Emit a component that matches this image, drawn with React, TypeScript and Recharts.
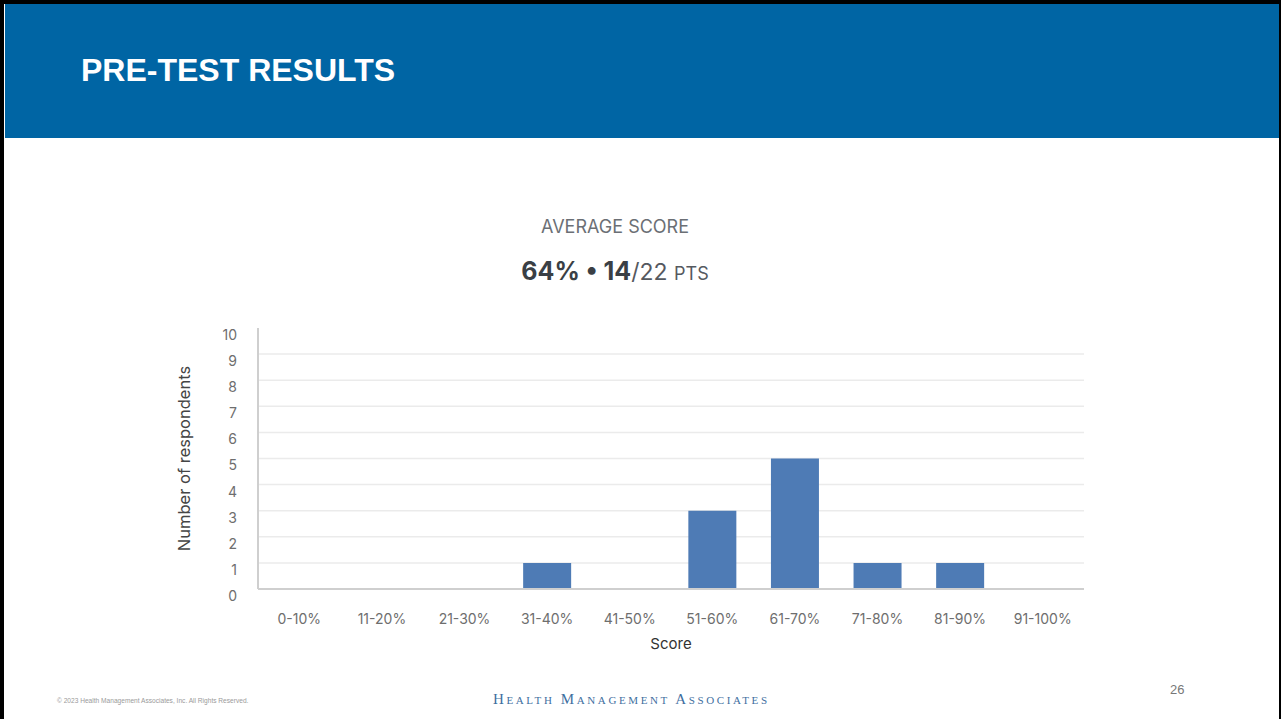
import React from 'react';
import { BarChart, Bar, XAxis, YAxis, CartesianGrid } from 'recharts';

// score buckets and respondents per bucket
const scoreRanges = ['0-10%', '11-20%', '21-30%', '31-40%', '41-50%', '51-60%', '61-70%', '71-80%', '81-90%', '91-100%'];
const respondents = [0, 0, 0, 1, 0, 3, 5, 1, 1, 0];
const yTicks = [0, 1, 2, 3, 4, 5, 6, 7, 8, 9, 10];
const gridValues = [1, 2, 3, 4, 5, 6, 7, 8, 9];

const data = scoreRanges.map((range, i) => ({ range, count: respondents[i] }));

const FONT = 'Inter, "Open Sans", sans-serif';

const YLabel = ({ viewBox }: any) => {
  const x = viewBox.x + 24;
  const y = viewBox.y + viewBox.height / 2;
  return (
    <text
      x={x}
      y={y}
      transform={`rotate(-90, ${x}, ${y})`}
      textAnchor="middle"
      dominantBaseline="central"
      fill="#454545"
      fontSize={16.5}
      fontFamily={FONT}
    >
      Number of respondents
    </text>
  );
};

const XLabel = ({ viewBox }: any) => (
  <text
    x={viewBox.x + viewBox.width / 2}
    y={viewBox.y + 54}
    textAnchor="middle"
    dominantBaseline="central"
    fill="#333"
    fontSize={15}
    fontFamily={FONT}
  >
    Score
  </text>
);

const App: React.FC = () => {
  return (
    <div style={{ position: 'absolute', left: 0, top: 0, width: 1281, height: 719, background: '#fff', overflow: 'hidden' }}>
      {/* slide frame */}
      <div style={{ position: 'absolute', left: 0, top: 0, width: 1281, height: 4, background: '#000' }} />
      <div style={{ position: 'absolute', left: 0, top: 0, width: 4, height: 719, background: '#000' }} />
      <div style={{ position: 'absolute', left: 1279, top: 0, width: 2, height: 719, background: '#000' }} />

      {/* header */}
      <div style={{ position: 'absolute', left: 5, top: 4, width: 1274, height: 134, background: '#0065a4' }} />
      <div
        style={{
          position: 'absolute',
          left: 81,
          top: 51,
          color: '#fff',
          fontFamily: '"Liberation Sans", Arial, sans-serif',
          fontWeight: 700,
          fontSize: 32,
          lineHeight: '38px',
        }}
      >
        PRE-TEST RESULTS
      </div>

      {/* chart title */}
      <div
        style={{
          position: 'absolute',
          left: 415,
          width: 400,
          top: 215,
          textAlign: 'center',
          fontFamily: FONT,
          fontSize: 18,
          color: '#6b6f75',
          lineHeight: '24px',
        }}
      >
        AVERAGE SCORE
      </div>
      <div
        style={{
          position: 'absolute',
          left: 415,
          width: 400,
          top: 254,
          textAlign: 'center',
          fontFamily: FONT,
          color: '#3a3f45',
          lineHeight: '34px',
          whiteSpace: 'nowrap',
        }}
      >
        <span style={{ fontSize: 25, fontWeight: 700 }}>64% • 14</span>
        <span style={{ fontSize: 23, color: '#55595f' }}>/22 </span>
        <span style={{ fontSize: 18, color: '#55595f' }}>PTS</span>
      </div>

      <div style={{ position: 'absolute', left: 160, top: 300 }}>
        <BarChart
          width={960}
          height={370}
          data={data}
          margin={{ top: 28, right: 36, bottom: 11, left: 0 }}
          barCategoryGap="21%"
        >
          <CartesianGrid vertical={false} stroke="#ebebeb" strokeWidth={1.5} horizontalValues={gridValues} />
          <XAxis
            dataKey="range"
            height={70}
            tickLine={false}
            tickSize={0}
            tickMargin={25}
            axisLine={{ stroke: '#cfcfcf', strokeWidth: 2 }}
            tick={{ fill: '#6e6e6e', fontSize: 14, fontFamily: FONT }}
            interval={0}
            label={<XLabel />}
          />
          <YAxis
            width={98}
            domain={[0, 10]}
            ticks={yTicks}
            tickLine={false}
            tickSize={0}
            tickMargin={21}
            axisLine={{ stroke: '#cfcfcf', strokeWidth: 2 }}
            tick={{ fill: '#6e6e6e', fontSize: 14, fontFamily: FONT, dy: 7 }}
            label={<YLabel />}
          />
          <Bar dataKey="count" fill="#4e7bb5" isAnimationActive={false} />
        </BarChart>
      </div>

      {/* footer */}
      <div
        style={{
          position: 'absolute',
          left: 57,
          top: 697,
          fontFamily: '"Liberation Sans", Arial, sans-serif',
          fontSize: 6.6,
          color: '#9a9a9a',
          lineHeight: '8px',
          whiteSpace: 'nowrap',
        }}
      >
        © 2023 Health Management Associates, Inc. All Rights Reserved.
      </div>
      <div
        style={{
          position: 'absolute',
          left: 493,
          top: 690,
          fontFamily: '"Liberation Serif", "DejaVu Serif", serif',
          fontSize: 15,
          fontVariant: 'small-caps',
          letterSpacing: 2.6,
          color: '#3f6f9f',
          lineHeight: '18px',
          whiteSpace: 'nowrap',
        }}
      >
        Health Management Associates
      </div>
      <div
        style={{
          position: 'absolute',
          left: 1170,
          top: 682,
          fontFamily: '"Liberation Sans", Arial, sans-serif',
          fontSize: 13,
          color: '#777',
          lineHeight: '16px',
        }}
      >
        26
      </div>
    </div>
  );
};

export default App;
